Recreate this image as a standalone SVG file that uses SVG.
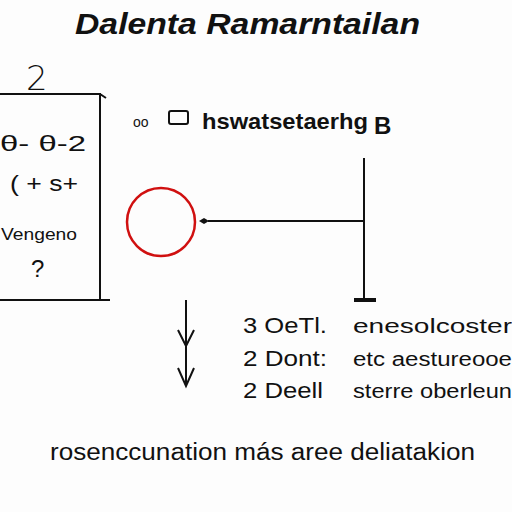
<svg xmlns="http://www.w3.org/2000/svg" width="512" height="512" viewBox="0 0 512 512">
<style>
.t{font-family:"Liberation Sans",Arial,sans-serif;fill:#111}
.ln{stroke:#111;stroke-width:2;fill:none}
</style>
<defs>
<marker id="dia" markerWidth="10" markerHeight="8" refX="1" refY="4" orient="auto" markerUnits="userSpaceOnUse">
<path d="M0,4 L5,1 L10,4 L5,7 Z" fill="#111"/>
</marker>
</defs>
<rect width="512" height="512" fill="#fdfdfd"/>
<text class="t" x="75" y="34" font-size="29" font-weight="bold" font-style="italic" textLength="345" lengthAdjust="spacingAndGlyphs">Dalenta Ramarntailan</text>

<g id="box">
<path class="ln" d="M0,94 H100 V300 M0,300 H110 M100,94 L106,98"/>
<text x="26" y="90" font-size="34" font-family="DejaVu Sans, sans-serif" font-weight="300" fill="#111">2</text>
<text class="t" x="0" y="151" font-size="22" textLength="86" lengthAdjust="spacingAndGlyphs">θ- θ-2</text>
<text class="t" x="10" y="191" font-size="22" textLength="68" lengthAdjust="spacingAndGlyphs">( + s+</text>
<text class="t" x="1" y="240" font-size="17" textLength="76" lengthAdjust="spacingAndGlyphs">Vengeno</text>
<text class="t" x="31" y="277" font-size="24">?</text>
</g>

<g id="circle">
<circle cx="161" cy="222" r="34" fill="none" stroke="#d01010" stroke-width="2.5"/>
</g>

<g id="label-top">
<text class="t" x="133" y="127" font-size="14">oo</text>
<rect x="169" y="111" width="19" height="13" rx="2" fill="none" stroke="#111" stroke-width="2"/>
<text class="t" x="202" y="129" font-size="22" font-weight="bold" textLength="166" lengthAdjust="spacingAndGlyphs">hswatsetaerhg</text>
<text class="t" x="374" y="134" font-size="24" font-weight="bold">B</text>
</g>

<g id="connectors">
<path class="ln" d="M364,221 H208" marker-end="url(#dia)"/>
<path class="ln" d="M364,158 V300"/>
<path d="M354,300 H376" stroke="#111" stroke-width="4"/>
<path class="ln" d="M186,300 V385 M178,330 L186,346 L194,330 M178,368 L186,386 L194,368"/>
</g>

<g id="list">
<text class="t" x="243" y="333" font-size="22" textLength="84" lengthAdjust="spacingAndGlyphs">3 OeTl.</text>
<text class="t" x="243" y="366" font-size="22" textLength="84" lengthAdjust="spacingAndGlyphs">2 Dont:</text>
<text class="t" x="243" y="398" font-size="22" textLength="80" lengthAdjust="spacingAndGlyphs">2 Deell</text>
<text class="t" x="353" y="333" font-size="20" textLength="159" lengthAdjust="spacingAndGlyphs">enesolcoster</text>
<text class="t" x="353" y="366" font-size="20" textLength="159" lengthAdjust="spacingAndGlyphs">etc aestureooe</text>
<text class="t" x="353" y="398" font-size="20" textLength="159" lengthAdjust="spacingAndGlyphs">sterre oberleun</text>
</g>

<text class="t" x="50" y="460" font-size="23" textLength="425" lengthAdjust="spacingAndGlyphs">rosenccunation más aree deliatakion</text>
</svg>
